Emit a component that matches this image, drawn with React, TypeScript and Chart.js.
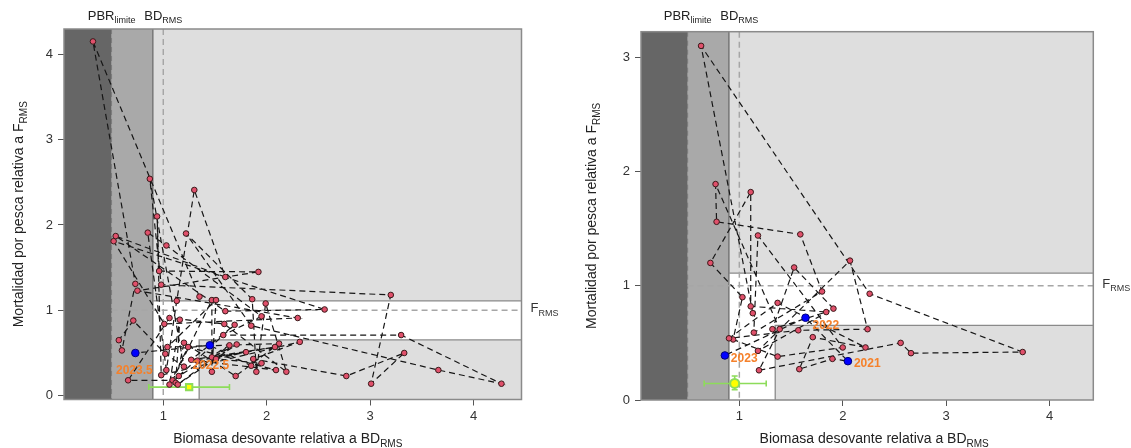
import React, { useEffect, useRef } from "react";
import { Chart, registerables } from "chart.js";
Chart.register(...registerables);

const FONT = "'Liberation Sans', Arial, Helvetica, sans-serif";

// ---------- Left panel data ----------
const LEFT_X = [1.35, 0.32, 0.73, 0.60, 0.57, 0.71, 1.02, 1.20, 0.87, 0.98, 3.20, 3.01, 3.33, 2.77, 1.87, 2.32, 0.98, 0.94, 0.96, 1.92, 0.75, 2.30, 1.01, 0.52, 2.56, 1.60, 0.54, 1.60, 1.30, 1.13, 1.03, 0.85, 1.03, 1.95, 1.58, 3.30, 4.27, 3.66, 1.85, 1.22, 1.86, 1.90, 1.99, 2.19, 1.59, 1.06, 0.66, 1.09, 1.47, 1.47, 1.51, 1.04, 2.12, 1.70, 1.20, 1.12, 1.16, 1.06, 1.24, 2.09, 1.33, 2.08, 1.27, 1.69, 1.15, 1.64, 1.14, 1.71, 1.47, 1.80, 1.51, 1.95, 1.85, 1.45, 0.73];
const LEFT_Y = [1.16, 4.15, 1.31, 0.53, 0.65, 0.88, 0.49, 0.34, 2.54, 1.30, 1.18, 0.14, 0.50, 0.23, 0.43, 0.63, 0.24, 2.10, 1.46, 1.45, 1.23, 0.91, 0.84, 1.81, 1.01, 0.99, 1.87, 1.39, 2.41, 1.11, 0.30, 1.91, 1.76, 0.93, 0.71, 0.71, 0.14, 0.30, 0.82, 1.90, 1.13, 0.28, 1.08, 0.28, 0.84, 0.91, 0.18, 0.18, 1.12, 0.28, 1.12, 0.57, 0.61, 0.23, 0.62, 0.15, 0.89, 0.13, 0.57, 0.30, 0.41, 0.57, 0.42, 0.83, 0.23, 0.59, 0.13, 0.60, 0.45, 0.51, 0.43, 0.38, 0.35, 0.59, 0.50];
const LEFT_YEARS = ["2022.5", "2023.5"]; // labels of the last points
const LEFT_REF_X = 1.25;
const LEFT_REF_Y = 0.10;
const LEFT_REF_XERR = [0.86, 1.64];

// ---------- Right panel data ----------
const RIGHT_X = [1.13, 0.63, 2.26, 3.74, 2.66, 2.56, 1.19, 1.39, 0.77, 0.78, 1.59, 1.80, 1.14, 1.18, 2.00, 1.37, 0.94, 1.03, 0.72, 1.11, 1.11, 1.84, 1.32, 1.53, 1.91, 1.18, 2.07, 2.24, 1.57, 0.90, 1.37, 2.22, 1.71, 1.58, 1.90, 2.05, 1.64, 0.86];
const RIGHT_Y = [0.76, 3.10, 0.93, 0.42, 0.41, 0.50, 0.26, 0.62, 1.89, 1.56, 1.45, 0.95, 0.59, 1.44, 0.46, 0.38, 0.53, 0.90, 1.20, 1.82, 0.82, 0.77, 0.62, 1.16, 0.80, 0.43, 1.22, 0.62, 0.61, 0.54, 0.85, 0.46, 0.55, 0.27, 0.36, 0.34, 0.72, 0.39];
const RIGHT_YEARS = ["2021", "2022", "2023"];
const RIGHT_REF_X = 0.955;
const RIGHT_REF_Y = 0.145;
const RIGHT_REF_XERR = [0.66, 1.26];
const RIGHT_REF_YERR = [0.09, 0.21];

// ---------- Reference points / zones ----------
const B_LIM = 0.5;
const B_PA = 0.9;
const B_MSY = 1.0;
const F_MSY = 1.0;
const F_UPPER = 1.11;
const F_LOWER = 0.653;
const B_LOWER = 1.347;

const LEFT_X_TICKS = [1, 2, 3, 4];
const LEFT_Y_TICKS = [0, 1, 2, 3, 4];
const RIGHT_X_TICKS = [1, 2, 3, 4];
const RIGHT_Y_TICKS = [0, 1, 2, 3];

const DARK = "#666666";
const MID = "#a9a9a9";
const LIGHT = "#dedede";
const RED = "#e0506b";
const BLUE = "#0000ff";
const ORANGE = "#f5812b";
const GREEN = "#8ddc5a";

type Cfg = {
  offsetX: number;
  width: number;
  height: number;
  left: number;
  top: number;
  right: number;
  bottom: number;
  xMin: number;
  xMax: number;
  yMin: number;
  yMax: number;
  xTicks: number[];
  yTicks: number[];
  xs: number[];
  ys: number[];
  years: string[];
  yearPos: { dx: number; dy: number; align: "left" | "center" }[];
  refX: number;
  refY: number;
  refXErr: number[];
  refYErr?: number[];
  refStyle: "rect" | "circle";
  yTitleX: number;
  xTitleDx: number;
};

function drawSub(
  ctx: CanvasRenderingContext2D,
  main: string,
  sub: string,
  x: number,
  y: number,
  align: "left" | "center",
  mainPx: number,
  subPx: number,
  color: string
) {
  ctx.font = `${mainPx}px ${FONT}`;
  const w1 = ctx.measureText(main).width;
  ctx.font = `${subPx}px ${FONT}`;
  const w2 = ctx.measureText(sub).width;
  const sx = align === "center" ? x - (w1 + w2) / 2 : x;
  ctx.fillStyle = color;
  ctx.textAlign = "left";
  ctx.textBaseline = "alphabetic";
  ctx.font = `${mainPx}px ${FONT}`;
  ctx.fillText(main, sx, y);
  ctx.font = `${subPx}px ${FONT}`;
  ctx.fillText(sub, sx + w1, y + mainPx * 0.25);
}

function makePlugin(cfg: Cfg) {
  return {
    id: "kobeDecor",
    beforeDatasetsDraw(chart: any) {
      const { ctx, chartArea: a, scales } = chart;
      const X = (v: number) => scales.x.getPixelForValue(v);
      const Y = (v: number) => scales.y.getPixelForValue(v);
      ctx.save();
      ctx.beginPath();
      ctx.rect(a.left, a.top, a.right - a.left, a.bottom - a.top);
      ctx.clip();
      ctx.fillStyle = "#ffffff";
      ctx.fillRect(a.left, a.top, a.right - a.left, a.bottom - a.top);
      ctx.fillStyle = LIGHT;
      ctx.fillRect(X(B_PA), a.top, a.right - X(B_PA), Y(F_UPPER) - a.top);
      ctx.fillRect(X(B_LOWER), Y(F_LOWER), a.right - X(B_LOWER), a.bottom - Y(F_LOWER));
      ctx.fillStyle = MID;
      ctx.fillRect(X(B_LIM), a.top, X(B_PA) - X(B_LIM), a.bottom - a.top);
      ctx.fillStyle = DARK;
      ctx.fillRect(a.left, a.top, X(B_LIM) - a.left, a.bottom - a.top);

      // solid boundaries
      ctx.setLineDash([]);
      ctx.lineWidth = 1;
      ctx.strokeStyle = "#555555";
      ctx.beginPath();
      ctx.moveTo(X(B_PA), a.top);
      ctx.lineTo(X(B_PA), a.bottom);
      ctx.stroke();
      ctx.strokeStyle = "#8a8a8a";
      ctx.lineWidth = 1.3;
      ctx.beginPath();
      ctx.moveTo(X(B_PA), Y(F_UPPER));
      ctx.lineTo(a.right, Y(F_UPPER));
      ctx.moveTo(X(B_LOWER), a.bottom);
      ctx.lineTo(X(B_LOWER), Y(F_LOWER));
      ctx.lineTo(a.right, Y(F_LOWER));
      ctx.stroke();

      // dashed references
      ctx.setLineDash([5, 4]);
      ctx.lineWidth = 1;
      ctx.strokeStyle = "#7a7a7a";
      ctx.beginPath();
      ctx.moveTo(X(B_LIM), a.top);
      ctx.lineTo(X(B_LIM), a.bottom);
      ctx.stroke();
      ctx.setLineDash([6, 4]);
      ctx.lineWidth = 1.5;
      ctx.strokeStyle = "#a6a6a6";
      ctx.beginPath();
      ctx.moveTo(X(B_MSY), a.top);
      ctx.lineTo(X(B_MSY), a.bottom);
      ctx.moveTo(X(B_LIM), Y(F_MSY));
      ctx.lineTo(a.right, Y(F_MSY));
      ctx.stroke();
      ctx.setLineDash([]);

      // error bars of the reference estimate
      ctx.strokeStyle = GREEN;
      ctx.lineWidth = 1.6;
      ctx.beginPath();
      const ry = Y(cfg.refY);
      ctx.moveTo(X(cfg.refXErr[0]), ry);
      ctx.lineTo(X(cfg.refXErr[1]), ry);
      ctx.moveTo(X(cfg.refXErr[0]), ry - 3);
      ctx.lineTo(X(cfg.refXErr[0]), ry + 3);
      ctx.moveTo(X(cfg.refXErr[1]), ry - 3);
      ctx.lineTo(X(cfg.refXErr[1]), ry + 3);
      if (cfg.refYErr) {
        const rx = X(cfg.refX);
        ctx.moveTo(rx, Y(cfg.refYErr[0]));
        ctx.lineTo(rx, Y(cfg.refYErr[1]));
        ctx.moveTo(rx - 3, Y(cfg.refYErr[0]));
        ctx.lineTo(rx + 3, Y(cfg.refYErr[0]));
        ctx.moveTo(rx - 3, Y(cfg.refYErr[1]));
        ctx.lineTo(rx + 3, Y(cfg.refYErr[1]));
      }
      ctx.stroke();
      ctx.restore();
    },
    afterDatasetsDraw(chart: any) {
      const { ctx, chartArea: a, scales } = chart;
      const X = (v: number) => scales.x.getPixelForValue(v);
      const Y = (v: number) => scales.y.getPixelForValue(v);
      ctx.save();
      // frame
      ctx.strokeStyle = "#8a8a8a";
      ctx.lineWidth = 1.5;
      ctx.strokeRect(a.left, a.top, a.right - a.left, a.bottom - a.top);

      // year labels
      const n = cfg.xs.length;
      ctx.font = `bold 12px ${FONT}`;
      ctx.fillStyle = ORANGE;
      ctx.textBaseline = "middle";
      cfg.years.forEach((lab, k) => {
        const i = n - cfg.years.length + k;
        const p = cfg.yearPos[k];
        ctx.textAlign = p.align;
        ctx.fillText(lab, X(cfg.xs[i]) + p.dx, Y(cfg.ys[i]) + p.dy);
      });

      // top labels
      drawSub(ctx, "PBR", "limite", X(B_LIM), 20, "center", 13, 9, "#222");
      drawSub(ctx, "BD", "RMS", X(B_MSY), 20, "center", 13, 9, "#222");
      // F_RMS at right
      drawSub(ctx, "F", "RMS", a.right + 9, Y(F_MSY) + 2, "left", 13, 9, "#333");

      // x title
      drawSub(
        ctx,
        "Biomasa desovante relativa a BD",
        "RMS",
        (a.left + a.right) / 2 + cfg.xTitleDx,
        443,
        "center",
        14,
        10,
        "#222"
      );
      // y title
      ctx.translate(cfg.yTitleX, (a.top + a.bottom) / 2);
      ctx.rotate(-Math.PI / 2);
      drawSub(ctx, "Mortalidad por pesca relativa a F", "RMS", 0, 5, "center", 14, 10, "#222");
      ctx.restore();
    },
  };
}

function Panel({ cfg }: { cfg: Cfg }) {
  const ref = useRef<HTMLCanvasElement>(null);
  useEffect(() => {
    const n = cfg.xs.length;
    const nh = cfg.years.length;
    const isH = (i: number) => i >= n - nh;
    const pts = cfg.xs.map((x, i) => ({ x, y: cfg.ys[i] }));
    const chart = new Chart(ref.current as HTMLCanvasElement, {
      type: "scatter",
      data: {
        datasets: [
          {
            data: [{ x: cfg.refX, y: cfg.refY }],
            pointStyle: cfg.refStyle,
            pointRadius: 4.5,
            pointBackgroundColor: "#ffff00",
            pointBorderColor: GREEN,
            pointBorderWidth: 2,
            order: 1,
          } as any,
          {
            data: pts,
            showLine: true,
            borderColor: "#161616",
            borderWidth: 1.2,
            borderDash: [6, 4],
            pointRadius: pts.map((_, i) => (isH(i) ? 3.8 : 2.8)),
            pointBackgroundColor: pts.map((_, i) => (isH(i) ? BLUE : RED)),
            pointBorderColor: pts.map((_, i) => (isH(i) ? "#00007a" : "#3a1a1a")),
            pointBorderWidth: 1,
            order: 2,
          } as any,
        ],
      },
      options: {
        animation: false,
        responsive: false,
        maintainAspectRatio: false,
        events: [],
        layout: { padding: { top: cfg.top, right: cfg.width - cfg.right, left: 0, bottom: 0 } },
        plugins: { legend: { display: false }, tooltip: { enabled: false }, title: { display: false } },
        scales: {
          x: {
            type: "linear",
            min: cfg.xMin,
            max: cfg.xMax,
            afterBuildTicks: (ax: any) => {
              ax.ticks = cfg.xTicks.map((v) => ({ value: v }));
            },
            afterFit: (ax: any) => {
              ax.height = cfg.height - cfg.bottom;
            },
            ticks: {
              autoSkip: false,
              maxRotation: 0,
              padding: 3,
              color: "#333",
              font: { family: FONT, size: 13 },
              callback: (v: any) => String(v),
            },
            grid: { drawOnChartArea: false, drawTicks: true, tickLength: 6, color: "#555", lineWidth: 1 },
            border: { display: false },
          },
          y: {
            type: "linear",
            min: cfg.yMin,
            max: cfg.yMax,
            afterBuildTicks: (ax: any) => {
              ax.ticks = cfg.yTicks.map((v) => ({ value: v }));
            },
            afterFit: (ax: any) => {
              ax.width = cfg.left;
            },
            ticks: {
              autoSkip: false,
              padding: 5,
              color: "#333",
              font: { family: FONT, size: 13 },
              callback: (v: any) => String(v),
            },
            grid: { drawOnChartArea: false, drawTicks: true, tickLength: 6, color: "#555", lineWidth: 1 },
            border: { display: false },
          },
        },
      } as any,
      plugins: [makePlugin(cfg) as any],
    });
    return () => chart.destroy();
  }, []);
  return (
    <canvas
      ref={ref}
      width={cfg.width}
      height={cfg.height}
      style={{ position: "absolute", left: cfg.offsetX, top: 0, width: cfg.width, height: cfg.height }}
    />
  );
}

const LEFT_CFG: Cfg = {
  offsetX: 0,
  width: 565,
  height: 448,
  left: 64,
  top: 29,
  right: 521.5,
  bottom: 399.5,
  xMin: 0.04,
  xMax: 4.464,
  yMin: -0.045,
  yMax: 4.296,
  xTicks: LEFT_X_TICKS,
  yTicks: LEFT_Y_TICKS,
  xs: LEFT_X,
  ys: LEFT_Y,
  years: LEFT_YEARS,
  yearPos: [
    { dx: 1, dy: 20, align: "center" },
    { dx: -1, dy: 18, align: "center" },
  ],
  refX: LEFT_REF_X,
  refY: LEFT_REF_Y,
  refXErr: LEFT_REF_XERR,
  refStyle: "rect",
  yTitleX: 18,
  xTitleDx: -5,
};

const RIGHT_CFG: Cfg = {
  offsetX: 565,
  width: 566,
  height: 448,
  left: 76,
  top: 31.7,
  right: 528.3,
  bottom: 400,
  xMin: 0.049,
  xMax: 4.423,
  yMin: 0,
  yMax: 3.224,
  xTicks: RIGHT_X_TICKS,
  yTicks: RIGHT_Y_TICKS,
  xs: RIGHT_X,
  ys: RIGHT_Y,
  years: RIGHT_YEARS,
  yearPos: [
    { dx: 6, dy: 3, align: "left" },
    { dx: 7, dy: 8, align: "left" },
    { dx: 6, dy: 3, align: "left" },
  ],
  refX: RIGHT_REF_X,
  refY: RIGHT_REF_Y,
  refXErr: RIGHT_REF_XERR,
  refYErr: RIGHT_REF_YERR,
  refStyle: "circle",
  yTitleX: 26,
  xTitleDx: 7,
};

export default function App() {
  return (
    <div style={{ position: "absolute", left: 0, top: 0, width: 1131, height: 448, background: "#ffffff" }}>
      <Panel cfg={LEFT_CFG} />
      <Panel cfg={RIGHT_CFG} />
    </div>
  );
}
